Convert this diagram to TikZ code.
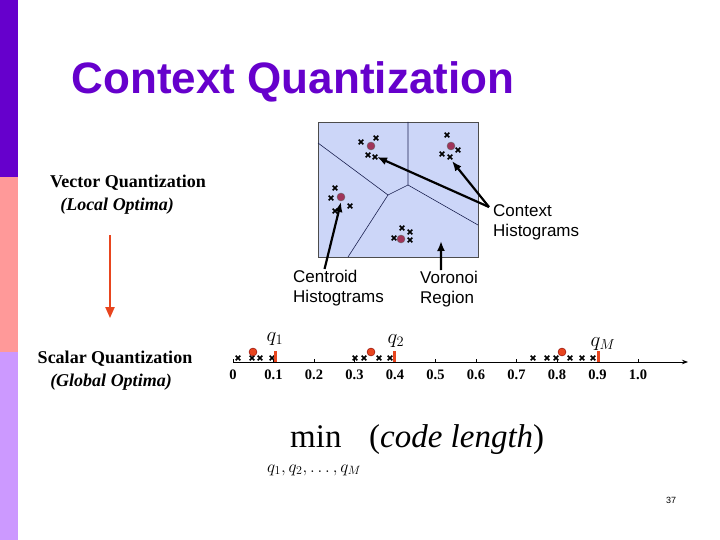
\documentclass[tikz,border=0pt]{standalone}
\usepackage{fontspec}
\setmainfont{Liberation Serif}
\setsansfont{Liberation Sans}
\usetikzlibrary{arrows.meta,calc}
\definecolor{barpurple}{HTML}{6600CC}
\definecolor{barpink}{HTML}{FF9999}
\definecolor{barlilac}{HTML}{CC99FF}
\definecolor{cellblue}{HTML}{CCD6F8}
\definecolor{cellline}{HTML}{1A2050}
\definecolor{centroid}{HTML}{A0345A}
\definecolor{qred}{HTML}{E8451E}
\tikzset{
  title/.style={text=barpurple, font=\sffamily\bfseries\fontsize{44}{48}\selectfont},
  cellbox/.style={fill=cellblue, draw=black!70, line width=0.6pt},
  edge/.style={draw=cellline, line width=0.6pt},
  cent/.style={circle, fill=centroid, draw=black!60, inner sep=0pt, minimum size=8pt},
  qpt/.style={circle, fill=qred, draw=red!50!black, inner sep=0pt, minimum size=8pt},
  qbar/.style={fill=qred},
  cross/.pic={\draw[line width=1.7pt] (-2.3,-2.3) -- (2.3,2.3) (-2.3,2.3) -- (2.3,-2.3);},
  bigarrow/.style={-{Latex[length=10pt,width=8pt]}, line width=2.2pt},
  redarrow/.style={-{Triangle[length=11pt,width=9pt]}, line width=2pt, draw=qred, fill=qred},
  lab/.style={font=\sffamily\fontsize{17}{20}\selectfont, align=left, inner sep=1pt},
  serlab/.style={font=\bfseries\fontsize{18}{21}\selectfont, inner sep=1pt},
  numlab/.style={font=\bfseries\fontsize{14.5}{16}\selectfont, anchor=base},
  qlab/.style={font=\fontsize{20}{22}\selectfont}
}
\begin{document}
\begin{tikzpicture}[x=1pt,y=-1pt]
  \useasboundingbox (0,0) rectangle (720,540);
  % side bar
  \fill[barpurple] (0,0) rectangle (18,177);
  \fill[barpink] (0,177) rectangle (18,352);
  \fill[barlilac] (0,352) rectangle (18,540);

  \node[title] (title) at (293,82) {Context Quantization};

  % voronoi cells
  \draw[cellbox] (318,122) rectangle (478,257);
  \coordinate (v1) at (408,185);
  \coordinate (v2) at (388,195);
  \draw[edge] (408,122) -- (v1) -- (478,225);
  \draw[edge] (v1) -- (v2) -- (318,143);
  \draw[edge] (v2) -- (348,257);

  \foreach \p in {(361,142),(376,138),(368,155),(375,157),
                  (447,135),(458,150),(442,154),(450,157),
                  (335,188),(331,198),(350,206),(335,211),
                  (402,228),(410,232),(394,238),(410,240)}
    \pic at \p {cross};
  \node[cent] (c1) at (371,146) {};
  \node[cent] (c2) at (451,146) {};
  \node[cent] (c3) at (341,197) {};
  \node[cent] (c4) at (401,239) {};

  \coordinate (h1) at (377,157);
  \coordinate (h2) at (452,161);
  \coordinate (h3) at (341,202);
  \coordinate (h4) at (441,241);

  \node[lab, anchor=north west] (ctx) at (492,203) {Context\\Histograms};
  \node[lab, anchor=north west] (cenlab) at (292,269) {Centroid\\Histogtrams};
  \node[lab, anchor=north west] (vorlab) at (419,270) {Voronoi\\Region};

  \draw[bigarrow] ([xshift=-3pt,yshift=-4pt]ctx.north west) -- (h1);
  \draw[bigarrow] ([xshift=-3pt,yshift=-4pt]ctx.north west) -- (h2);
  \draw[bigarrow] ([xshift=-14pt]cenlab.north) -- (h3);
  \draw[bigarrow] ([xshift=-8pt]vorlab.north) -- (h4);

  % vector -> scalar
  \node[serlab] (vq) at (128,183) {Vector Quantization};
  \node[serlab] (local) at (117,206) {\itshape (Local Optima)};
  \node[serlab] (sq) at (115,359) {Scalar Quantization};
  \node[serlab] (global) at (111,382) {\itshape (Global Optima)};
  \draw[redarrow] ([xshift=-7pt,yshift=-20pt]local.south) -- ([xshift=-5pt,yshift=32pt]sq.north);

  % scalar line
  \coordinate (o) at (233,362);
  \draw[line width=0.8pt, -{Stealth[length=6pt]}] (o) -- (688,362);
  \foreach \i/\t in {0/0,1/0.1,2/0.2,3/0.3,4/0.4,5/0.5,6/0.6,7/0.7,8/0.8,9/0.9,10/1.0} {
    \draw[line width=0.5pt] ({233+40.5*\i},362) -- ({233+40.5*\i},359);
    \node[numlab] at ({233+40.5*\i},379) {\t};
  }
  \foreach \x in {238,252,260,272,355,364,379,390,533,547,556,570,582,593}
    \pic at (\x,358) {cross};
  \node[qpt] (p1) at (253,352) {};
  \node[qpt] (p2) at (371,352) {};
  \node[qpt] (p3) at (562,352) {};
  \fill[qbar] (274,351) rectangle (277,362);
  \fill[qbar] (393,351) rectangle (396,362);
  \fill[qbar] (597,351) rectangle (600,362);
  \node[qlab] (q1) at (275,339) {$q_1$};
  \node[qlab] (q2) at (396,341) {$q_2$};
  \node[qlab] (qM) at (603,344) {$q_M$};

  % cost
  \node[anchor=base west, inner sep=0pt, font=\fontsize{33}{36}\selectfont] (min) at (290,447) {min};
  \node[anchor=base west, inner sep=0pt, font=\fontsize{17.5}{19}\selectfont] (sub) at (267,472) {$q_1,q_2,\ldots,q_M$};
  \node[anchor=base west, inner sep=0pt, font=\itshape\fontsize{33}{36}\selectfont] (len) at (369,447) {\upshape(\itshape code length\upshape)};

  \node[font=\sffamily\fontsize{9}{10}\selectfont] (page) at (671,500) {37};
\end{tikzpicture}
\end{document}
